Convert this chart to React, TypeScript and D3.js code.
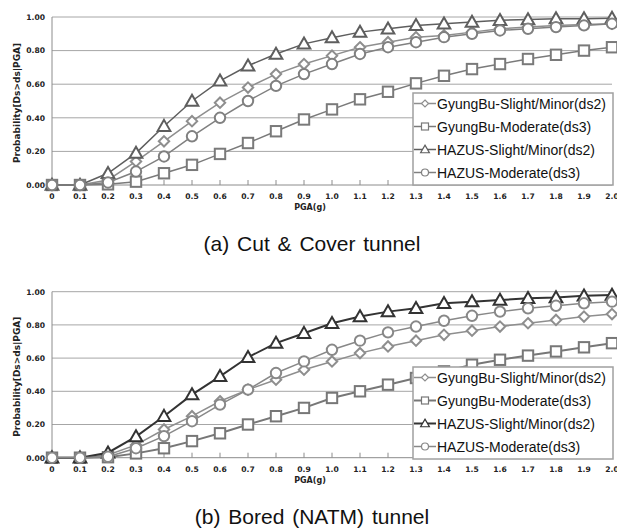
import React from "react";
import * as d3 from "d3";

// PGA categories (x axis)
const pga = ["0", "0.1", "0.2", "0.3", "0.4", "0.5", "0.6", "0.7", "0.8", "0.9", "1.0",
  "1.1", "1.2", "1.3", "1.4", "1.5", "1.6", "1.7", "1.8", "1.9", "2.0"];
const yTicks = [0, 0.2, 0.4, 0.6, 0.8, 1.0];
const seriesNames = ["GyungBu-Slight/Minor(ds2)", "GyungBu-Moderate(ds3)", "HAZUS-Slight/Minor(ds2)", "HAZUS-Moderate(ds3)"];

// (a) Cut & Cover tunnel
const cutGyungBuSlight = [0, 0, 0.03, 0.14, 0.26, 0.38, 0.49, 0.58, 0.66, 0.72, 0.77, 0.82, 0.85, 0.88, 0.89, 0.91, 0.93, 0.94, 0.95, 0.955, 0.96];
const cutGyungBuModerate = [0, 0, 0.004, 0.02, 0.07, 0.12, 0.185, 0.25, 0.32, 0.39, 0.45, 0.51, 0.555, 0.605, 0.65, 0.69, 0.72, 0.75, 0.775, 0.8, 0.82];
const cutHazusSlight = [0, 0, 0.07, 0.19, 0.35, 0.5, 0.62, 0.71, 0.78, 0.84, 0.877, 0.91, 0.93, 0.95, 0.96, 0.97, 0.98, 0.985, 0.99, 0.99, 0.993];
const cutHazusModerate = [0, 0, 0.015, 0.08, 0.17, 0.29, 0.4, 0.5, 0.59, 0.66, 0.72, 0.78, 0.82, 0.85, 0.88, 0.9, 0.92, 0.93, 0.94, 0.95, 0.96];

// (b) Bored (NATM) tunnel
const boredGyungBuSlight = [0, 0, 0.016, 0.077, 0.17, 0.25, 0.34, 0.41, 0.47, 0.53, 0.58, 0.63, 0.67, 0.705, 0.74, 0.765, 0.79, 0.81, 0.83, 0.85, 0.865];
const boredGyungBuModerate = [0, 0, 0.003, 0.026, 0.057, 0.1, 0.147, 0.2, 0.25, 0.3, 0.36, 0.4, 0.44, 0.48, 0.52, 0.56, 0.59, 0.615, 0.64, 0.665, 0.69];
const boredHazusSlight = [0, 0, 0.03, 0.127, 0.25, 0.38, 0.49, 0.605, 0.69, 0.75, 0.81, 0.85, 0.88, 0.9, 0.93, 0.94, 0.95, 0.96, 0.965, 0.975, 0.98];
const boredHazusModerate = [0, 0, 0.006, 0.057, 0.13, 0.22, 0.32, 0.41, 0.51, 0.58, 0.65, 0.705, 0.755, 0.79, 0.825, 0.855, 0.88, 0.9, 0.915, 0.93, 0.94];

const shapes = ["diamond", "square", "triangle", "circle"];
const axisFont = "'DejaVu Sans', Verdana, sans-serif";

const Marker = ({ shape, x, y, s, color, sw }: any) => {
  if (shape === "diamond")
    return <path d={`M${x},${y - s}L${x + s},${y}L${x},${y + s}L${x - s},${y}Z`} fill="#fff" stroke={color} strokeWidth={sw} />;
  if (shape === "square")
    return <rect x={x - s} y={y - s} width={2 * s} height={2 * s} fill="#fff" stroke={color} strokeWidth={sw} />;
  if (shape === "triangle")
    return <path d={`M${x},${y - s * 1.15}L${x + s * 1.15},${y + s * 0.85}L${x - s * 1.15},${y + s * 0.85}Z`} fill="#fff" stroke={color} strokeWidth={sw} />;
  return <circle cx={x} cy={y} r={s} fill="#fff" stroke={color} strokeWidth={sw} />;
};

const Panel = ({ top, bottom, series, colors, widths, legendY, caption, captionY }: any) => {
  const x = d3.scalePoint<string>().domain(pga).range([52, 612]).padding(0);
  const y = d3.scaleLinear().domain([0, 1]).range([bottom, top]);
  const line = d3.line<number>().x((_, i) => x(pga[i])!).y((d) => y(d));
  const lx = 413, lw = 200, lh = 92;
  return (
    <g>
      {yTicks.filter((t) => t > 0).map((t) => (
        <line key={t} x1={52} x2={612} y1={y(t)} y2={y(t)} stroke="#a6a6a6" strokeWidth={1} />
      ))}
      <line x1={52} x2={52} y1={top} y2={bottom} stroke="#8c8c8c" strokeWidth={1} />
      <line x1={52} x2={612} y1={bottom} y2={bottom} stroke="#8c8c8c" strokeWidth={1} />
      {pga.map((p) => (
        <line key={p} x1={x(p)} x2={x(p)} y1={bottom - 5} y2={bottom} stroke="#8c8c8c" strokeWidth={1} />
      ))}
      {yTicks.map((t) => (
        <text key={t} x={45} y={y(t) + 2.8} textAnchor="end" fontSize={7.6} fontWeight="bold" fontFamily={axisFont} fill="#222">
          {t.toFixed(2)}
        </text>
      ))}
      {pga.map((p) => (
        <text key={p} x={x(p)} y={bottom + 14} textAnchor="middle" fontSize={7.6} fontWeight="bold" fontFamily={axisFont} fill="#222">
          {p}
        </text>
      ))}
      <text x={310} y={bottom + 25} textAnchor="middle" fontSize={8} fontWeight="bold" fontFamily={axisFont} fill="#222">PGA(g)</text>
      <text transform={`translate(20,${(top + bottom) / 2 + 2}) rotate(-90)`} textAnchor="middle" fontSize={9} fontWeight="bold" fontFamily={axisFont} fill="#222">
        Probability[Ds&gt;ds|PGA]
      </text>
      {series.map((s: number[], k: number) => (
        <g key={k}>
          <path d={line(s)!} fill="none" stroke={colors[k]} strokeWidth={widths[k]} />
          {s.map((v, i) => (
            <Marker key={i} shape={shapes[k]} x={x(pga[i])} y={y(v)} s={k === 2 ? 5.5 : 5.2} color={colors[k]} sw={2} />
          ))}
        </g>
      ))}
      <rect x={lx} y={legendY} width={lw} height={lh} fill="#fff" stroke="#a0a0a0" strokeWidth={1.5} />
      {seriesNames.map((n, k) => {
        const ry = legendY + 10.5 + k * 23;
        return (
          <g key={n}>
            <line x1={lx + 1} x2={lx + 23} y1={ry} y2={ry} stroke={colors[k]} strokeWidth={widths[k]} />
            <Marker shape={shapes[k]} x={lx + 12} y={ry} s={k === 2 ? 3.8 : 3.5} color={colors[k]} sw={1.2} />
            <text x={lx + 24} y={ry + 5} fontSize={14} fontFamily="'Liberation Sans', Arial, sans-serif" fill="#111">{n}</text>
          </g>
        );
      })}
      <text x={312} y={captionY} textAnchor="middle" fontSize={21} wordSpacing={2} fontFamily="'Liberation Sans', Arial, sans-serif" fill="#111">
        {caption}
      </text>
    </g>
  );
};

export default function App() {
  return (
    <svg width={617} height={531} style={{ position: "absolute", left: 0, top: 0, background: "#fff" }}>
      <rect width={617} height={531} fill="#fff" />
      <Panel
        top={17}
        bottom={185}
        series={[cutGyungBuSlight, cutGyungBuModerate, cutHazusSlight, cutHazusModerate]}
        colors={["#8e8e8e", "#7a7a7a", "#5e5e5e", "#808080"]}
        widths={[1.5, 1.5, 1.5, 1.5]}
        legendY={93}
        caption="(a) Cut & Cover tunnel"
        captionY={251}
      />
      <Panel
        top={291.7}
        bottom={457.7}
        series={[boredGyungBuSlight, boredGyungBuModerate, boredHazusSlight, boredHazusModerate]}
        colors={["#8e8e8e", "#777777", "#333333", "#888888"]}
        widths={[1.5, 2, 2, 1.5]}
        legendY={367}
        caption="(b) Bored (NATM) tunnel"
        captionY={524}
      />
    </svg>
  );
}
